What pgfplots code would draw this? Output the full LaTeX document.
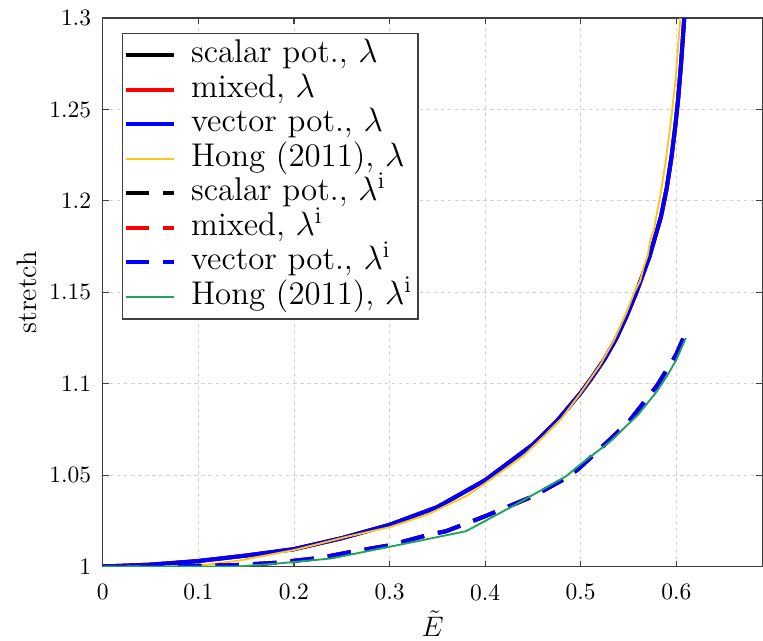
\documentclass[border=0pt]{standalone}
\usepackage{pgfplots}
\pgfplotsset{compat=1.18}
\definecolor{hongyel}{HTML}{FFC61A}
\definecolor{honggrn}{HTML}{1FA35E}
\definecolor{axink}{HTML}{404040}

% lambda (total stretch), the three formulations coincide
\pgfplotstableread{
x      y
0      1.0000
0.05   1.0010
0.10   1.0030
0.15   1.0060
0.20   1.0095
0.25   1.0155
0.30   1.0228
0.35   1.0325
0.40   1.0472
0.45   1.0667
0.475  1.0795
0.50   1.0950
0.512  1.1035
0.525  1.1135
0.537  1.1245
0.548  1.1370
0.558  1.1496
0.572  1.1696
0.584  1.1914
0.590  1.2070
0.595  1.2240
0.599  1.2410
0.602  1.2560
0.605  1.2750
0.607  1.2900
0.609  1.3050
}\lamsolid
\pgfplotstableread{
x      y
0      1.0000
0.06   1.0000
0.10   1.0005
0.14   1.0030
0.20   1.0090
0.258  1.0166
0.30   1.0215
0.34   1.0285
0.36   1.0335
0.38   1.0385
0.40   1.0455
0.42   1.0530
0.44   1.0605
0.46   1.0705
0.48   1.0810
0.50   1.0950
0.52   1.1100
0.535  1.1240
0.548  1.1390
0.556  1.1500
0.562  1.1560
0.566  1.1640
0.570  1.1700
0.573  1.1790
0.5765 1.1840
0.580  1.1940
0.584  1.2050
0.589  1.2220
0.594  1.2420
0.599  1.2650
0.602  1.2850
0.605  1.3050
}\lamhong
% inelastic stretch
\pgfplotstableread{
x      y
0      1.0000
0.10   1.0003
0.14   1.0008
0.18   1.0020
0.227  1.0047
0.26   1.0080
0.30   1.0116
0.342  1.0175
0.359  1.0193
0.40   1.0275
0.45   1.0384
0.488  1.0493
0.50   1.0545
0.519  1.0638
0.55   1.0790
0.58   1.0990
0.60   1.1160
0.61   1.1280
}\lamidash
\pgfplotstableread{
x      y
0      1.0000
0.14   1.0000
0.18   1.0015
0.239  1.0044
0.321  1.0130
0.38   1.0193
0.432  1.0339
0.4845 1.0493
0.50   1.0560
0.53   1.0680
0.56   1.0830
0.58   1.0960
0.59   1.1040
0.60   1.1130
0.61   1.1250
}\lamihong

\begin{document}
\begin{tikzpicture}
\begin{axis}[
    scale only axis,
    width=280.9pt, height=233.6pt,
    xmin=0, xmax=0.69,
    ymin=1, ymax=1.3,
    xtick={0,0.1,0.2,0.3,0.4,0.5,0.6},
    xticklabels={0,0.1,0.2,0.3,0.4,0.5,0.6},
    ytick={1,1.05,1.1,1.15,1.2,1.25,1.3},
    yticklabels={1,1.05,1.1,1.15,1.2,1.25,1.3},
    tick align=inside,
    major tick length=2.5pt,
    tick style={draw=axink, line width=0.5pt},
    axis line style={draw=axink, line width=0.5pt},
    xticklabel style={yshift=-4pt},
    yticklabel style={xshift=-1.5pt},
    grid=major,
    major grid style={draw=black!18, line width=0.4pt, dash pattern=on 1.5pt off 1.5pt},
    xlabel={$\tilde{E}$},
    ylabel={stretch},
    x label style={at={([yshift=-24.5pt]axis description cs:0.5,0)}, anchor=center, font=\fontsize{12}{14}\selectfont},
    y label style={at={([xshift=-32.5pt]axis description cs:0,0.5)}, anchor=center, font=\fontsize{12}{14}\selectfont},
    legend image code/.code={\draw[#1] (0pt,0pt) -- (20.4pt,0pt);},
    legend cell align=left,
    legend style={
        at={(0.029,0.973)}, anchor=north west,
        draw=axink, line width=0.5pt, fill=white,
        font=\fontsize{14}{15}\selectfont,
        inner xsep=0.5pt, inner ysep=2pt,
        nodes={inner xsep=2pt, inner ysep=1pt, text height=9.5pt, text depth=3.2pt},
        /tikz/every odd column/.append style={column sep=4.6pt},
    },
    thk/.style={line width=1.7pt},
    dsh/.style={line width=1.7pt, dash pattern=on 10pt off 6pt},
]
\addplot[black, thk] table {\lamsolid};
\addlegendentry{scalar pot., $\lambda$}
\addplot[red, thk] table {\lamsolid};
\addlegendentry{mixed, $\lambda$}
\addplot[blue, thk] table {\lamsolid};
\addlegendentry{vector pot., $\lambda$}
\addplot[hongyel, line width=0.8pt] table {\lamhong};
\addlegendentry{Hong (2011), $\lambda$}
\addplot[black, dsh] table {\lamidash};
\addlegendentry{scalar pot., $\lambda^{\mathrm{i}}$}
\addplot[red, dsh] table {\lamidash};
\addlegendentry{mixed, $\lambda^{\mathrm{i}}$}
\addplot[blue, dsh] table {\lamidash};
\addlegendentry{vector pot., $\lambda^{\mathrm{i}}$}
\addplot[honggrn, line width=0.8pt] table {\lamihong};
\addlegendentry{Hong (2011), $\lambda^{\mathrm{i}}$}
\end{axis}
\pgfresetboundingbox
\path[use as bounding box] ([xshift=-43.8pt,yshift=-31.5pt]current axis.south west) rectangle ([xshift=0.3pt,yshift=7.7pt]current axis.north east);
\end{tikzpicture}
\end{document}
